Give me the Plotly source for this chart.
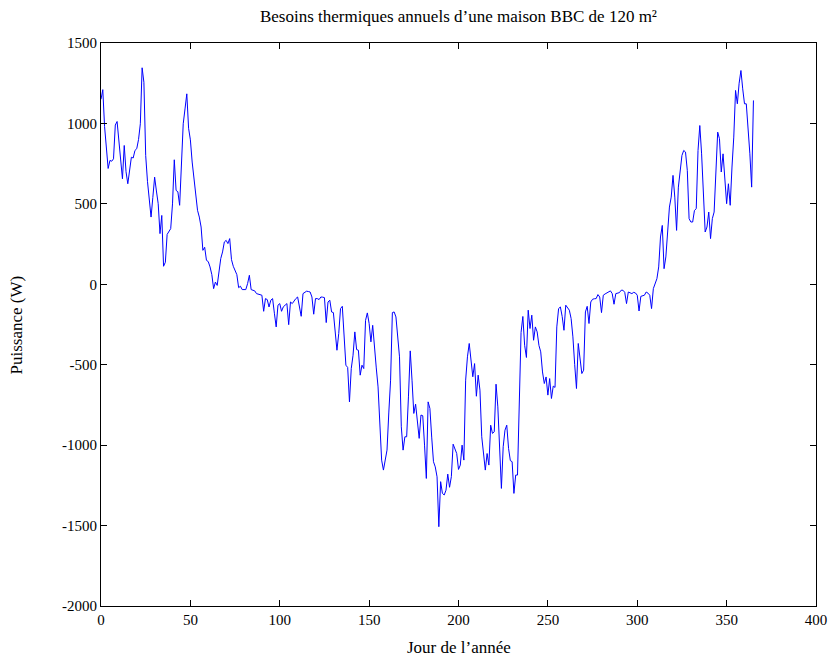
import plotly.graph_objects as go

# jour de l'année -> puissance (W)
jours = list(range(0, 366))
puissance = [
    1150, 1210, 980, 830, 720, 770, 765, 780, 990, 1012,
    900, 760, 656, 863, 700, 625, 700, 790, 785, 832,
    843, 900, 998, 1346, 1256, 800, 640, 520, 418, 540,
    666, 580, 501, 315, 428, 112, 137, 310, 330, 346,
    500, 774, 584, 575, 491, 750, 998, 1090, 1184, 970,
    898, 760, 646, 560, 460, 418, 356, 211, 230, 149,
    141, 108, 60, -27, 14, -7, 80, 160, 201, 263,
    273, 253, 284, 153, 112, 80, 60, -21, -12, -33,
    -33, -33, 4, 56, -33, -38, -41, -58, -60, -64,
    -68, -168, -89, -95, -141, -99, -89, -180, -265, -130,
    -120, -168, -140, -130, -120, -251, -110, -120, -100, -89,
    -79, -130, -199, -58, -48, -43, -45, -48, -79, -186,
    -89, -89, -95, -79, -80, -83, -238, -110, -99, -172,
    -176, -300, -410, -306, -151, -137, -368, -503, -517, -731,
    -524, -441, -296, -406, -410, -565, -503, -524, -224, -178,
    -244, -358, -255, -410, -520, -638, -900, -1093, -1155, -1100,
    -1031, -800, -596, -176, -172, -203, -320, -451, -886, -1031,
    -948, -948, -700, -414, -596, -803, -745, -850, -958, -813,
    -817, -1000, -1207, -731, -772, -950, -1103, -1135, -1197, -1507,
    -1227, -1300, -1310, -1280, -1180, -1262, -1196, -994, -1031, -1052,
    -1151, -1124, -1000, -1093, -596, -451, -368, -461, -575, -493,
    -696, -565, -658, -948, -1072, -1155, -1052, -1124, -876, -927,
    -917, -621, -762, -1031, -1269, -1010, -907, -876, -1020, -1096,
    -1103, -1300, -1186, -1186, -638, -300, -200, -379, -455, -161,
    -275, -192, -348, -265, -296, -380, -420, -545, -617, -576,
    -689, -586, -710, -633, -641, -265, -151, -141, -200, -286,
    -130, -150, -161, -213, -327, -500, -648, -368, -451, -555,
    -534, -172, -137, -244, -110, -93, -90, -89, -64, -79,
    -176, -68, -60, -54, -45, -41, -58, -124, -58, -55,
    -52, -37, -37, -50, -120, -48, -52, -58, -50, -54,
    -68, -166, -75, -70, -68, -48, -55, -68, -151, -27,
    10, 35, 108, 294, 366, 97, 170, 356, 480, 542,
    677, 542, 335, 604, 708, 801, 832, 822, 708, 408,
    387, 387, 459, 470, 832, 987, 811, 584, 325, 356,
    449, 284, 408, 449, 708, 946, 905, 698, 811, 646,
    501, 625, 491, 729, 915, 1205, 1122, 1250, 1329, 1215,
    1122, 1122, 977, 811, 604, 1143,
]

xticks = [0, 50, 100, 150, 200, 250, 300, 350, 400]
yticks = [-2000, -1500, -1000, -500, 0, 500, 1000, 1500]
ylabels = [str(v) for v in yticks]  # trait d'union simple, comme gnuplot

police = "Liberation Serif"
noir = "black"

fig = go.Figure()
fig.add_trace(go.Scatter(x=jours, y=puissance, mode="lines",
                         line=dict(color="#0000ff", width=1), showlegend=False))

axe = dict(showline=True, linecolor=noir, linewidth=1, mirror="ticks",
           ticks="inside", ticklen=6, tickcolor=noir, showgrid=False,
           zeroline=False, automargin=False,
           tickfont=dict(family=police, size=15, color=noir))

fig.update_xaxes(range=[0, 400], tickvals=xticks, ticktext=[str(v) for v in xticks],
                 ticklabeloverflow="allow", **axe)
fig.update_yaxes(range=[-2000, 1500], tickvals=yticks, ticktext=ylabels, **axe)

fig.update_layout(
    width=828, height=657,
    margin=dict(l=101, r=12, t=43, b=51),
    plot_bgcolor="white", paper_bgcolor="white",
    title=dict(text="Besoins thermiques annuels d’une maison BBC de 120 m²",
               x=0.5537, xanchor="center", y=0.976, yanchor="middle",
               font=dict(family=police, size=17, color=noir)),
    annotations=[
        dict(text="Jour de l’année", xref="paper", yref="paper", x=0.5, y=-0.073,
             xanchor="center", yanchor="middle", showarrow=False,
             font=dict(family=police, size=17, color=noir)),
        dict(text="Puissance (W)", xref="paper", yref="paper", x=-0.1175, y=0.5,
             xanchor="center", yanchor="middle", textangle=-90, showarrow=False,
             font=dict(family=police, size=17, color=noir)),
    ],
)

# pas de marge autour de la figure dans la page
fig.write_html("out.html", config={"displayModeBar": False},
               post_script="document.body.style.margin='0';")
